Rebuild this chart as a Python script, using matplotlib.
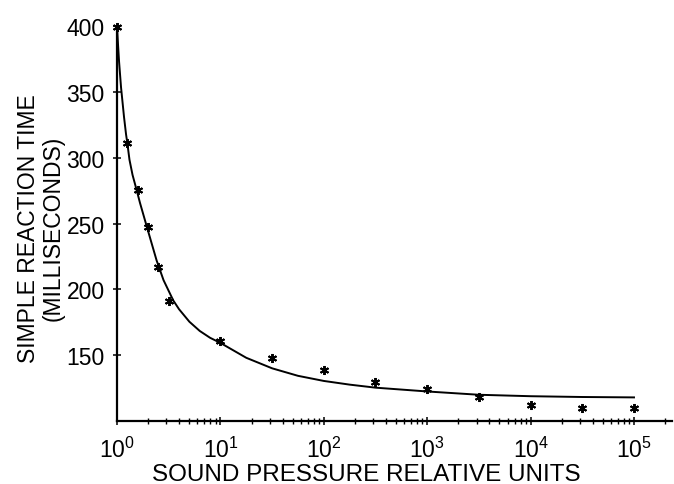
import numpy as np
import matplotlib
matplotlib.use('Agg')
import matplotlib.pyplot as plt
from matplotlib.ticker import LogLocator, NullFormatter, FixedLocator

plt.rcParams['font.family'] = ['Liberation Sans', 'DejaVu Sans']
plt.rcParams['mathtext.default'] = 'regular'

# measured reaction times (asterisks)
pressure = [1, 1.259, 1.585, 1.995, 2.512, 3.162, 10, 31.62, 100, 316.2,
            1000, 3162, 10000, 31623, 100000]
rt = [399, 311, 275.5, 247.5, 217, 191.5, 161, 148, 139, 129.5,
      124, 118, 112, 110, 110]

# fitted curve
fit_x = [1, 1.023, 1.047, 1.094, 1.169, 1.222, 1.259, 1.320, 1.413, 1.549,
         1.667, 1.936, 2.415, 2.818, 3.499, 3.981, 5.012, 6.31, 7.943, 10,
         17.78, 31.62, 56.23, 100, 177.8, 316.2, 1000, 3162, 10000, 31623,
         100000]
fit_y = [400, 386, 373, 353.5, 331, 318, 311, 298.5, 287, 275.4,
         265.8, 248, 222, 207, 191.6, 184.9, 175.4, 168.4, 163.2, 159.3,
         148.0, 140.0, 134.3, 130.4, 127.6, 125.3, 122.4, 119.9, 118.8, 118.2,
         117.9]

y_ticks = [150, 200, 250, 300, 350, 400]

fig = plt.figure(figsize=(6.74, 4.85), dpi=100)
ax = fig.add_axes([0.1736, 0.130, 0.8234, 0.814])

ax.plot(fit_x, fit_y, color='black', lw=1.4)
ax.plot(pressure, rt, linestyle='none', marker=(6, 2, 0), markersize=6.5,
        markeredgewidth=1.4, color='black', clip_on=False)

ax.set_xscale('log')
ax.set_xlim(1, 2.33e5)
ax.set_ylim(100, 400)
ax.yaxis.set_major_locator(FixedLocator(y_ticks))
ax.xaxis.set_major_locator(LogLocator(base=10, numticks=10))
ax.xaxis.set_minor_locator(LogLocator(base=10, subs=np.arange(2, 10), numticks=10))
ax.xaxis.set_minor_formatter(NullFormatter())

for side in ['top', 'right']:
    ax.spines[side].set_visible(False)
for side in ['left', 'bottom']:
    ax.spines[side].set_linewidth(1.6)

ax.tick_params(axis='both', which='major', direction='inout', length=6,
               width=1.1, labelsize=16.5)
ax.tick_params(axis='x', which='minor', direction='inout', length=4, width=1.0)
ax.tick_params(axis='x', which='major', pad=8)
ax.tick_params(axis='y', which='major', pad=6)

ax.set_xlabel('SOUND PRESSURE RELATIVE UNITS', fontsize=17.5)
ax.xaxis.set_label_coords(0.449, -0.107)
ax.set_ylabel('SIMPLE REACTION TIME\n(MILLISECONDS)', fontsize=16.5,
              linespacing=1.12)
ax.yaxis.set_label_coords(-0.094, 0.49)

plt.savefig('out.png', dpi=100)
